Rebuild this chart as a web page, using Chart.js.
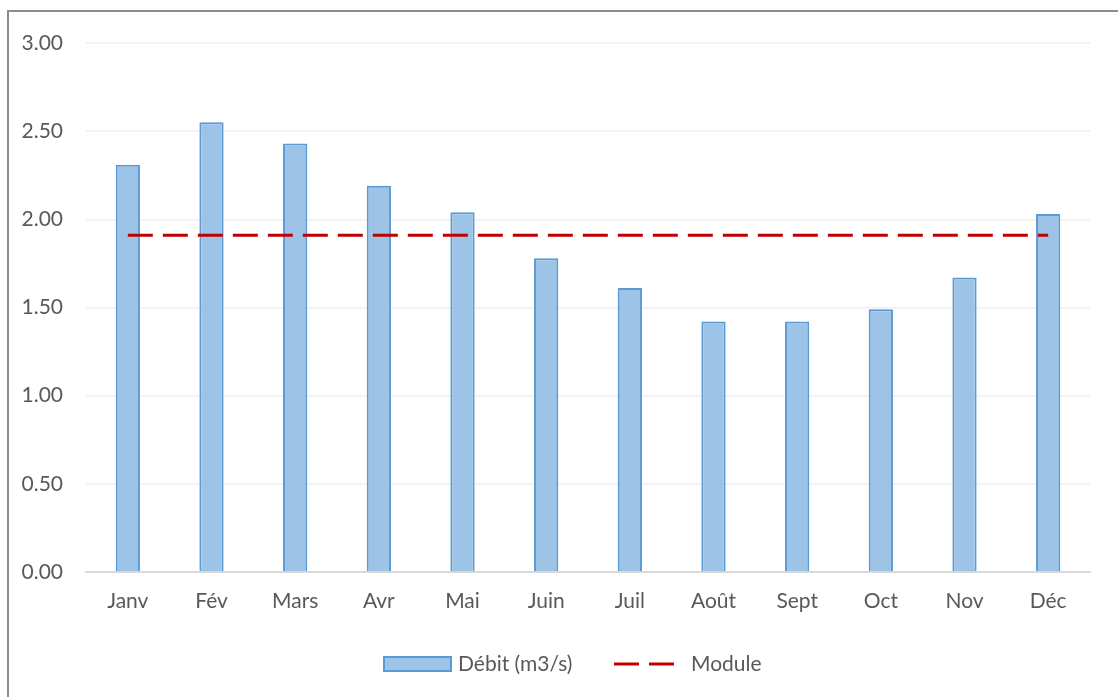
<!DOCTYPE html>
<html>
<head>
<meta charset="utf-8">
<script src="https://cdn.jsdelivr.net/npm/chart.js@4/dist/chart.umd.min.js"></script>
<style>
  html, body { margin: 0; padding: 0; background: #fff; overflow: hidden; }
  #frame { position: absolute; left: 7px; top: 10px; width: 1300px; height: 900px; border: 2px solid #8c8c8c; box-sizing: border-box; }
  #wrap { position: absolute; left: 0; top: 0; width: 1118px; height: 697px; }
</style>
</head>
<body>
<div id="frame"></div>
<div id="wrap"><canvas id="c" width="1118" height="697"></canvas></div>
<script>
const categories = ["Janv", "Fév", "Mars", "Avr", "Mai", "Juin", "Juil", "Août", "Sept", "Oct", "Nov", "Déc"];
const debit = [2.31, 2.55, 2.43, 2.19, 2.04, 1.78, 1.61, 1.42, 1.42, 1.49, 1.67, 2.03];
const moduleValue = 1.91;
const moduleSeries = categories.map(() => moduleValue);
const seriesLabels = ["Débit (m3/s)", "Module"];
const yTicks = [0, 0.5, 1, 1.5, 2, 2.5, 3];

const FONT = "Lato, 'Open Sans', sans-serif";
const TXT = "#595959";

const legendPlugin = {
  id: 'customLegend',
  afterDraw(chart) {
    const ctx = chart.ctx;
    const barDs = chart.data.datasets.find(d => d.type === 'bar');
    const lineDs = chart.data.datasets.find(d => d.type === 'line');
    ctx.save();
    const cy = 664;
    ctx.fillStyle = barDs.backgroundColor;
    ctx.strokeStyle = barDs.borderColor;
    ctx.lineWidth = 2;
    ctx.fillRect(384, 657, 67, 14);
    ctx.strokeRect(384, 657, 67, 14);
    ctx.font = "21px " + FONT;
    ctx.fillStyle = TXT;
    ctx.textBaseline = 'middle';
    ctx.textAlign = 'left';
    ctx.fillText(barDs.label, 458, cy);
    ctx.strokeStyle = lineDs.borderColor;
    ctx.lineWidth = 3;
    ctx.setLineDash([25, 10]);
    ctx.beginPath();
    ctx.moveTo(614, cy);
    ctx.lineTo(674, cy);
    ctx.stroke();
    ctx.setLineDash([]);
    ctx.fillText(lineDs.label, 691, cy);
    ctx.restore();
  }
};

new Chart(document.getElementById('c'), {
  data: {
    labels: categories,
    datasets: [
      {
        type: 'line',
        label: seriesLabels[1],
        data: moduleSeries,
        borderColor: '#c00000',
        borderWidth: 3,
        borderDash: [25, 10],
        pointRadius: 0,
        fill: false,
        order: 0
      },
      {
        type: 'bar',
        label: seriesLabels[0],
        data: debit,
        backgroundColor: '#9dc3e6',
        borderColor: '#5b9bd5',
        borderWidth: 2,
        barPercentage: 0.29,
        categoryPercentage: 1,
        order: 1
      }
    ]
  },
  options: {
    responsive: false,
    animation: false,
    devicePixelRatio: 1,
    layout: { padding: { left: 0, right: 28, top: 43, bottom: 75 } },
    plugins: {
      legend: { display: false },
      tooltip: { enabled: false }
    },
    scales: {
      x: {
        grid: { display: false, drawTicks: false },
        border: { display: true, color: '#d9d9d9', width: 2 },
        ticks: { color: TXT, font: { family: FONT, size: 21 }, padding: 17 },
        afterFit(s) { s.height = 50; }
      },
      y: {
        min: 0, max: 3,
        afterBuildTicks(s) { s.ticks = yTicks.map(v => ({ value: v })); },
        grid: { color: (c) => c.tick && c.tick.value === 0 ? '#d9d9d9' : '#efefef', lineWidth: 1.5, drawTicks: false },
        border: { display: false },
        ticks: { color: TXT, font: { family: FONT, size: 21 }, padding: 23, callback: (v) => Number(v).toFixed(2) },
        afterFit(s) { s.width = 86; }
      }
    }
  },
  plugins: [legendPlugin]
});
</script>
</body>
</html>
